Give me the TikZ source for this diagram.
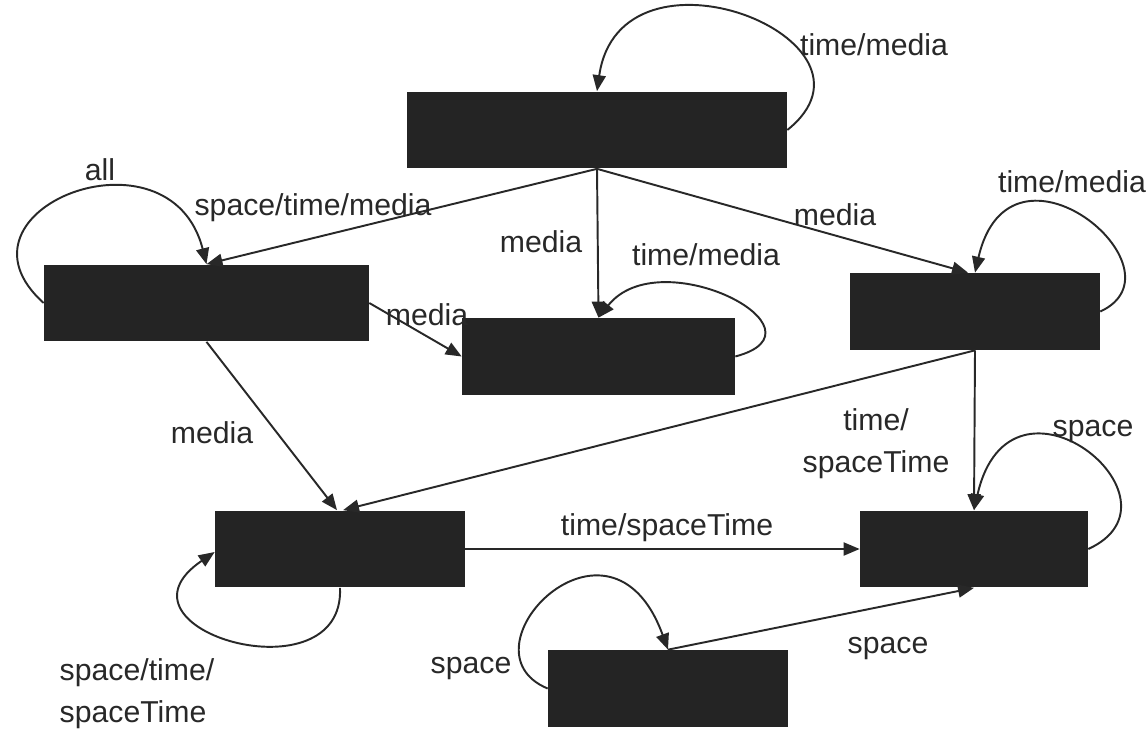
\documentclass[tikz,border=0pt]{standalone}
\usepackage{fontspec}
\setmainfont{Liberation Sans}
\usetikzlibrary{arrows.meta}
\definecolor{boxgray}{RGB}{36,36,36}
\definecolor{inkgray}{RGB}{40,40,40}
\begin{document}
\begin{tikzpicture}[x=0.02cm,y=-0.02cm,
  state/.style={rectangle,fill=boxgray,draw=none,inner sep=0pt,minimum height=1.54cm},
  arr/.style={draw=inkgray,line width=1.1pt,-{Triangle[length=0.32cm,width=0.26cm]}},
  lbl/.style={text=inkgray,inner sep=1pt,font=\fontsize{17.2}{24}\selectfont}]
\path[use as bounding box,fill=white] (0,0) rectangle (1146,730);

% states
\node[state,minimum width=7.6cm]  (T)  at (597,130) {};
\node[state,minimum width=6.5cm]  (L)  at (206.5,303) {};
\node[state,minimum width=5.46cm] (M)  at (598.5,356.5) {};
\node[state,minimum width=5.0cm]  (R)  at (975,311.5) {};
\node[state,minimum width=5.0cm]  (BL) at (340,549) {};
\node[state,minimum width=4.56cm] (BR) at (974,549) {};
\node[state,minimum width=4.8cm]  (B)  at (668,688.5) {};

% transitions between states
\draw[arr] (T.south) -- (L.north);
\draw[arr] (T.south) -- (M.north);
\draw[arr] (T.south) -- ([xshift=-0.14cm]R.north);
\draw[arr] (L.east) -- (M.west);
\draw[arr] (L.south) -- ([xshift=-0.06cm]BL.north);
\draw[arr] (R.south) -- ([xshift=0.06cm]BL.north);
\draw[arr] (R.south) -- (BR.north);
\draw[arr] (BL.east) -- (BR.west);
\draw[arr] (B.north) -- (BR.south);

% self loops
\draw[arr] (T.east) .. controls (900,40) and (620,-70) .. (T.north);
\draw[arr] (L.west) .. controls (-60,210) and (170,120) .. (L.north);
\draw[arr] (M.east) .. controls (835,330) and (660,240) .. (M.north);
\draw[arr] (R.east) .. controls (1190,270) and (1010,120) .. (R.north);
\draw[arr] (BR.east) .. controls (1195,500) and (1010,350) .. (BR.north);
\draw[arr] (BL.south) .. controls (345,700) and (100,630) .. ([yshift=-0.06cm]BL.west);
\draw[arr] (B.west) .. controls (455,650) and (610,490) .. (B.north);

% labels
\node[lbl] (l1)  at (874,45)  {time/media};
\node[lbl] (l2)  at (100,170) {all};
\node[lbl] (l3)  at (313,208) {space/time/media};
\node[lbl] (l4)  at (541,242) {media};
\node[lbl] (l5)  at (706,255) {time/media};
\node[lbl] (l6)  at (835,215) {media};
\node[lbl] (l7)  at (1072,182) {time/media};
\node[lbl] (l8)  at (427,315) {media};
\node[lbl] (l9)  at (212,433) {media};
\node[lbl,align=center] (l10) at (876,444) {time/\\spaceTime};
\node[lbl] (l11) at (1093,432) {space};
\node[lbl] (l12) at (667,528) {time/spaceTime};
\node[lbl,align=left] (l13) at (137,694) {space/time/\\spaceTime};
\node[lbl] (l14) at (471,668) {space};
\node[lbl] (l15) at (888,648) {space};
\end{tikzpicture}
\end{document}
